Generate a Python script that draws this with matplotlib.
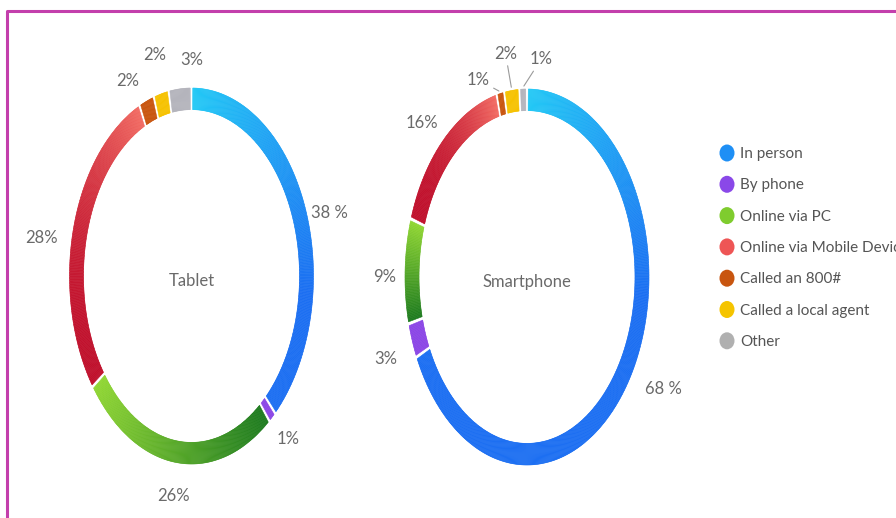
import numpy as np
import matplotlib
matplotlib.use("Agg")
import matplotlib.pyplot as plt
from matplotlib.patches import Wedge, Ellipse
from matplotlib.colors import to_rgb

plt.rcParams['font.family'] = ['Lato', 'DejaVu Sans']

# data
categories = ['In person', 'By phone', 'Online via PC', 'Online via Mobile Device',
              'Called an 800#', 'Called a local agent', 'Other']
tablet = [38, 1, 26, 28, 2, 2, 3]
smartphone = [68, 3, 9, 16, 1, 2, 1]
tablet_labels = ['38 %', '1%', '26%', '28%', '2%', '2%', '3%']
smartphone_labels = ['68 %', '3%', '9%', '16%', '1%', '2%', '1%']

# ring colours: (start, end) of the gradient, clockwise, and gradient curve
ring_colors = [('#22c9f5', '#1c6ff2'), ('#8b46e6', '#8b46e6'), ('#1c7a1e', '#90d633'),
               ('#c0102c', '#f26a62'), ('#c9550e', '#c9550e'), ('#f6c200', '#f6c200'),
               ('#b4b4bc', '#b4b4bc')]
ring_curve = [1.0, 1.0, 1.0, 2.2, 1.0, 1.0, 1.0]
legend_colors = ['#1e8ff5', '#8a48e8', '#7fcc2e', '#ee5555', '#c8550f', '#f5c400', '#b0b0b0']

# label nudges in pixels (x right, y up) from the default spot
tablet_nudge = {0: (2, -20), 1: (0, 6), 2: (0, 4), 3: (-8, -18), 4: (-10, -15), 5: (0, 2), 6: (14, -9)}
smart_nudge = {0: (13, 9), 1: (-3, -6), 2: (4, -7), 3: (-5, -10)}
smart_callouts = {4: (-22, 12), 5: (-6, 35), 6: (18, 28)}

W, H = 896, 518
fig = plt.figure(figsize=(W / 100, H / 100), dpi=100)
fig.patch.set_facecolor('white')

# overlay axes in pixel units for border and legend
over = fig.add_axes([0, 0, 1, 1])
over.set_xlim(0, W)
over.set_ylim(H, 0)
over.axis('off')
over.plot([6.5, 6.5, W], [H, 11, 11], color='#c33fac', lw=2.2, solid_capstyle='butt')

RX, RY = 122, 188
RING = 0.115
GAP = 0.6
LAB_R = 1.2
text_col = '#6a6a6a'


def donut(cx, cy, values, labels, name, nudge, callouts=None):
    ax = fig.add_axes([(cx - 1.6 * RX) / W, (H - cy - 1.4 * RY) / H, 3.2 * RX / W, 2.8 * RY / H])
    ax.set_xlim(-1.6, 1.6)
    ax.set_ylim(-1.4, 1.4)
    ax.axis('off')
    total = float(sum(values))
    cum = 0.0
    for i, v in enumerate(values):
        a0 = 90 - cum / total * 360
        a1 = 90 - (cum + v) / total * 360
        cum += v
        s0, s1 = a0 - GAP, a1 + GAP
        span = s0 - s1
        n = max(2, int(span / 0.5))
        d = span / n
        c0, c1 = np.array(to_rgb(ring_colors[i][0])), np.array(to_rgb(ring_colors[i][1]))
        for k in range(n):
            hi = s0 - k * d
            lo = hi - d
            sweep = (k + 0.5) * d
            if i == 0:
                t = min(1.0, sweep / 95.0)
            else:
                t = (sweep / span) ** ring_curve[i]
            col = c0 + (c1 - c0) * t
            ax.add_patch(Wedge((0, 0), 1.0, lo, hi, width=RING,
                               facecolor=col, edgecolor=col, lw=0.4))
        mid = np.deg2rad((a0 + a1) / 2)
        if callouts and i in callouts:
            dx, dy = callouts[i]
            ax.annotate(labels[i], xy=(np.cos(mid) * 1.01, np.sin(mid) * 1.01),
                        xytext=(dx, dy), textcoords='offset pixels',
                        ha='center', va='center', fontsize=12, color=text_col,
                        arrowprops=dict(arrowstyle='-', color='#9a9a9a', lw=0.8,
                                        shrinkA=1, shrinkB=1))
        else:
            dx, dy = nudge.get(i, (0, 0))
            ax.annotate(labels[i], xy=(LAB_R * np.cos(mid), LAB_R * np.sin(mid)),
                        xytext=(dx, dy), textcoords='offset pixels',
                        ha='center', va='center', fontsize=12, color=text_col)
    ax.annotate(name, xy=(0, 0), xytext=(0, -5), textcoords='offset pixels',
                ha='center', va='center', fontsize=12, color=text_col)


donut(191.5, 276, tablet, tablet_labels, 'Tablet', tablet_nudge)
donut(527, 277, smartphone, smartphone_labels, 'Smartphone', smart_nudge, smart_callouts)

# legend
for j, (cat, col) in enumerate(zip(categories, legend_colors)):
    y = 153 + j * 31.3
    over.add_patch(Ellipse((727, y), 15, 17, facecolor=col, edgecolor='none'))
    over.text(740, y + 1, cat, ha='left', va='center', fontsize=11, color='#555555')

plt.savefig('out.png', dpi=100)
